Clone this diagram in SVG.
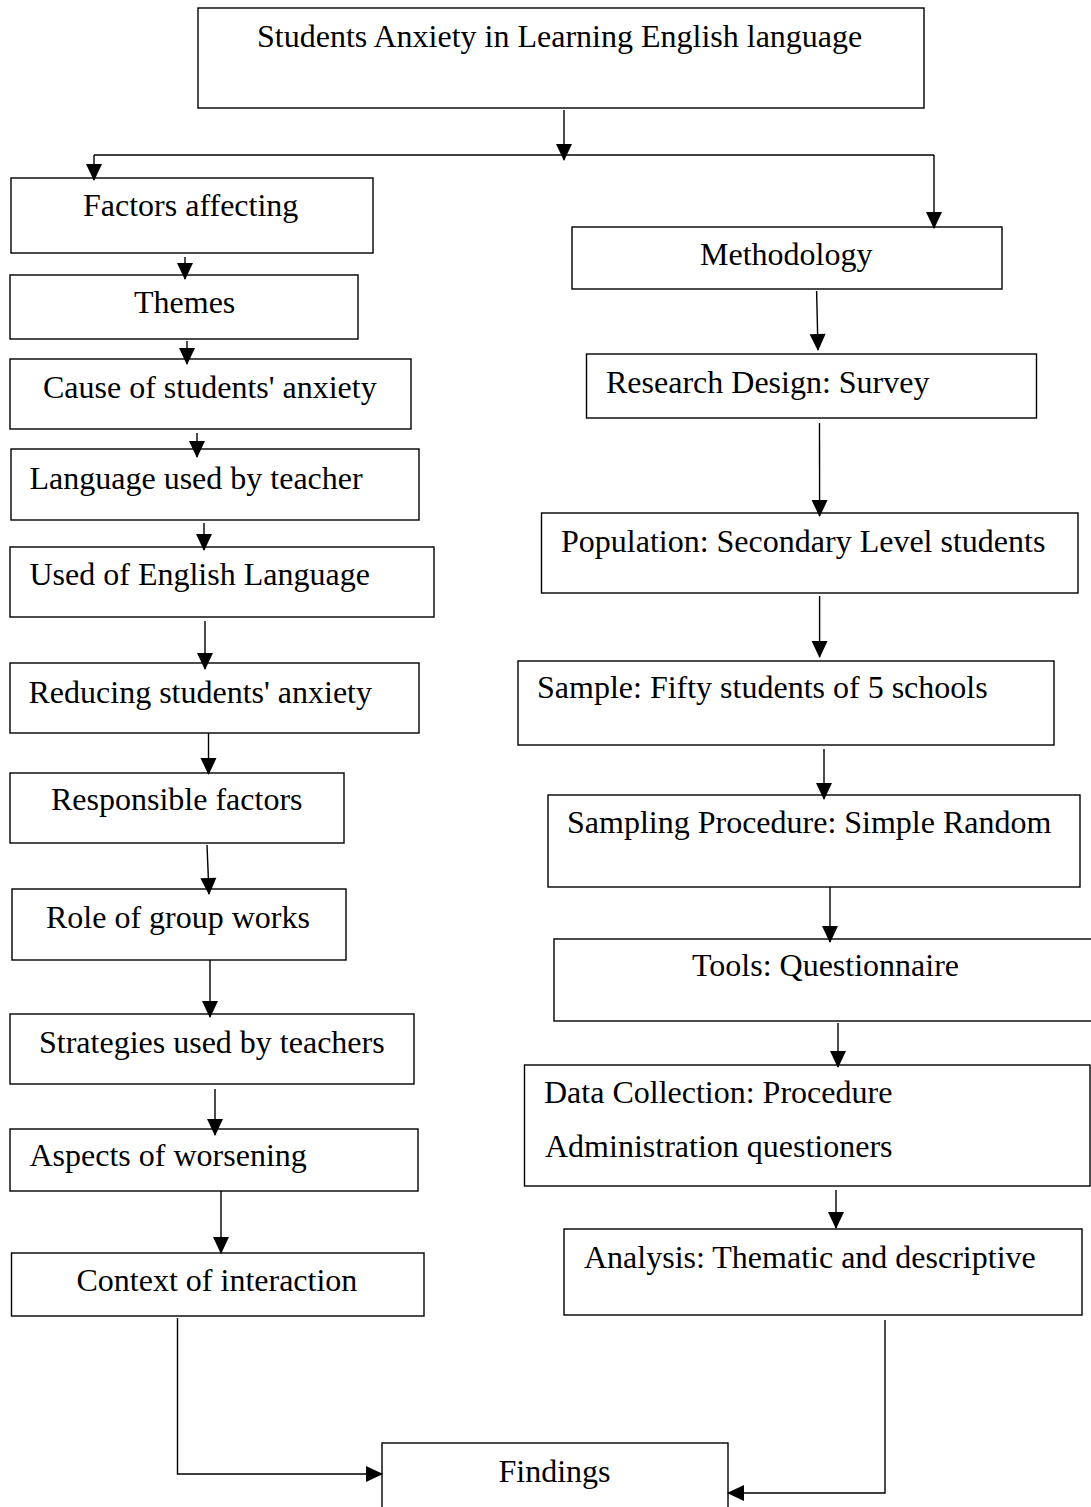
<svg xmlns="http://www.w3.org/2000/svg" width="1091" height="1507" viewBox="0 0 1091 1507">
<style>
.box{fill:#fff;stroke:#000;stroke-width:1.4}
.t{font-family:"Liberation Serif","Times New Roman",serif;font-size:32px;fill:#000}
.c{fill:none;stroke:#000;stroke-width:1.4}
</style>
<defs>
<marker id="ah" markerUnits="userSpaceOnUse" viewBox="0 0 17 16" markerWidth="17" markerHeight="16" refX="16" refY="8" orient="auto" overflow="visible">
<path d="M0,0 L17,8 L0,16 z" fill="#000"/>
</marker>
</defs>
<rect width="1091" height="1507" fill="#fff"/>
<g id="n-top"><rect class="box" x="198" y="8" width="726" height="100"/><text class="t" x="257" y="47">Students Anxiety in Learning English language</text></g>
<g id="n-factors"><rect class="box" x="11" y="178" width="362" height="75"/><text class="t" x="83" y="216">Factors affecting</text></g>
<g id="n-themes"><rect class="box" x="10" y="275" width="348" height="64"/><text class="t" x="134" y="313">Themes</text></g>
<g id="n-cause"><rect class="box" x="10" y="359" width="401" height="70"/><text class="t" x="43" y="398">Cause of students' anxiety</text></g>
<g id="n-language"><rect class="box" x="11" y="449" width="408" height="71"/><text class="t" x="29.5" y="489">Language used by teacher</text></g>
<g id="n-used"><rect class="box" x="10" y="547" width="424" height="70"/><text class="t" x="29.5" y="585">Used of English Language</text></g>
<g id="n-reducing"><rect class="box" x="10" y="663" width="409" height="70"/><text class="t" x="28.5" y="703">Reducing students' anxiety</text></g>
<g id="n-responsible"><rect class="box" x="10" y="773" width="334" height="70"/><text class="t" x="51" y="810">Responsible factors</text></g>
<g id="n-role"><rect class="box" x="12" y="889" width="334" height="71"/><text class="t" x="46" y="928">Role of group works</text></g>
<g id="n-strategies"><rect class="box" x="10" y="1014" width="404" height="70"/><text class="t" x="39" y="1053">Strategies used by teachers</text></g>
<g id="n-aspects"><rect class="box" x="10" y="1129" width="408" height="62"/><text class="t" x="29.5" y="1166">Aspects of worsening</text></g>
<g id="n-context"><rect class="box" x="11.5" y="1253" width="412.5" height="63"/><text class="t" x="76.5" y="1291">Context of interaction</text></g>
<g id="n-method"><rect class="box" x="572" y="227" width="430" height="62"/><text class="t" x="700" y="265">Methodology</text></g>
<g id="n-design"><rect class="box" x="586.5" y="354" width="450" height="64"/><text class="t" x="606" y="393">Research Design: Survey</text></g>
<g id="n-population"><rect class="box" x="541.5" y="513" width="536.5" height="80"/><text class="t" x="561" y="552">Population: Secondary Level students</text></g>
<g id="n-sample"><rect class="box" x="518" y="661" width="536" height="84"/><text class="t" x="537" y="698">Sample: Fifty students of 5 schools</text></g>
<g id="n-sampling"><rect class="box" x="548" y="795" width="532" height="92"/><text class="t" x="567" y="833">Sampling Procedure: Simple Random</text></g>
<g id="n-tools"><rect class="box" x="554" y="939" width="545" height="82"/><text class="t" x="692" y="976">Tools: Questionnaire</text></g>
<g id="n-data"><rect class="box" x="524.5" y="1065" width="565.5" height="121"/><text class="t" x="544" y="1103">Data Collection: Procedure</text><text class="t" x="545" y="1157">Administration questioners</text></g>
<g id="n-analysis"><rect class="box" x="564" y="1229" width="518" height="86"/><text class="t" x="584" y="1268">Analysis: Thematic and descriptive</text></g>
<g id="n-findings"><rect class="box" x="382" y="1443" width="346" height="80"/><text class="t" x="498.5" y="1482">Findings</text></g>
<g id="connectors">
<path class="c" d="M564,110 L564,160" marker-end="url(#ah)"/>
<path class="c" d="M94,155 L934,155"/>
<path class="c" d="M94,155 L94,180" marker-end="url(#ah)"/>
<path class="c" d="M934,155 L934,228" marker-end="url(#ah)"/>
<path class="c" d="M185,257 L185,279" marker-end="url(#ah)"/>
<path class="c" d="M187,341 L187,364" marker-end="url(#ah)"/>
<path class="c" d="M197,433 L197,457" marker-end="url(#ah)"/>
<path class="c" d="M204,523 L204,550" marker-end="url(#ah)"/>
<path class="c" d="M205,621 L205,669" marker-end="url(#ah)"/>
<path class="c" d="M208.5,733 L208.5,774" marker-end="url(#ah)"/>
<path class="c" d="M207,845 L209,894" marker-end="url(#ah)"/>
<path class="c" d="M210,960 L210,1017" marker-end="url(#ah)"/>
<path class="c" d="M215,1089 L215,1135" marker-end="url(#ah)"/>
<path class="c" d="M221,1191 L221,1253" marker-end="url(#ah)"/>
<path class="c" d="M816.6,291 L818,350" marker-end="url(#ah)"/>
<path class="c" d="M819.5,423 L819.6,516" marker-end="url(#ah)"/>
<path class="c" d="M819.6,596 L819.6,657" marker-end="url(#ah)"/>
<path class="c" d="M824,749 L824,799" marker-end="url(#ah)"/>
<path class="c" d="M830,887 L830,942" marker-end="url(#ah)"/>
<path class="c" d="M838,1023 L838,1067" marker-end="url(#ah)"/>
<path class="c" d="M836,1190 L836,1228" marker-end="url(#ah)"/>
<path class="c" d="M177.5,1318 L177.5,1474 L382,1474" marker-end="url(#ah)"/>
<path class="c" d="M885,1320 L885,1493 L728,1493" marker-end="url(#ah)"/>
</g>
</svg>
